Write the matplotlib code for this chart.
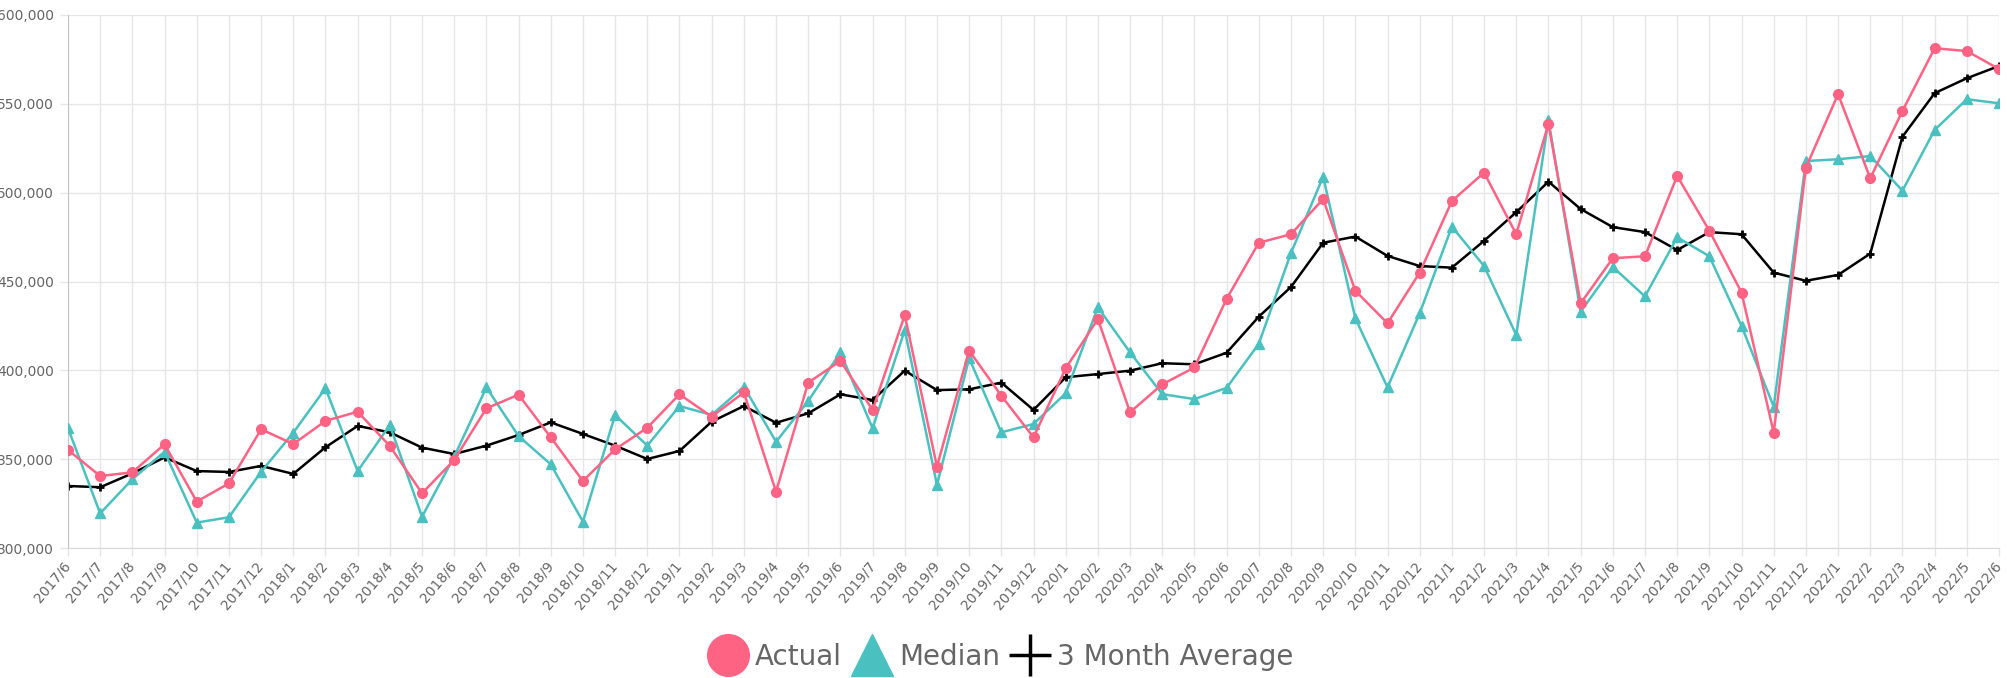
import matplotlib
matplotlib.use("Agg")
import matplotlib.pyplot as plt
from matplotlib.lines import Line2D
from matplotlib.ticker import FuncFormatter

# months shown on the x axis, 2017/6 .. 2022/6
months = []
for y in range(2017, 2023):
    for m in range(1, 13):
        if (y == 2017 and m < 6) or (y == 2022 and m > 6):
            continue
        months.append(f"{y}/{m}")

actual = [
    355.2, 340.5, 342.6, 358.4, 326.1, 336.4, 366.8, 358.5, 371.5, 376.7,
    357.4, 330.8, 349.5, 378.6, 386.3, 362.3, 337.7, 355.5, 367.7, 386.5,
    373.9, 387.6, 331.7, 393.1, 405.3, 377.7, 431.1, 345.8, 411.1, 385.7,
    362.3, 401.1, 428.9, 376.4, 392.1, 401.6, 440.2, 471.8, 476.6, 496.4,
    444.8, 426.5, 455.0, 495.3, 511.3, 476.6, 538.7, 437.7, 463.1, 464.2,
    509.4, 478.6, 443.8, 364.9, 514.1, 555.4, 508.1, 546.0, 581.3, 579.7,
    569.6,
]
median = [
    367.4, 319.5, 338.7, 354.2, 314.3, 317.3, 342.9, 364.9, 389.9, 343.3,
    369.2, 317.6, 351.4, 390.4, 363.0, 347.1, 314.8, 374.9, 357.6, 379.9,
    374.9, 390.8, 359.8, 382.7, 410.1, 367.4, 422.7, 335.5, 406.8, 365.1,
    369.8, 387.1, 435.5, 410.1, 386.6, 383.8, 390.1, 414.9, 466.0, 509.0,
    429.3, 390.4, 432.1, 480.9, 458.7, 419.9, 540.9, 433.0, 458.2, 441.6,
    474.9, 464.2, 425.0, 379.5, 517.8, 518.8, 520.6, 501.1, 535.3, 552.6,
    550.3,
]
avg3 = [
    334.9, 334.2, 342.0, 351.0, 343.3, 342.8, 346.2, 341.7, 356.7, 368.7,
    365.1, 356.5, 352.9, 357.6, 363.6, 370.7, 364.2, 357.6, 350.1, 354.6,
    371.1, 379.9, 370.5, 375.8, 386.5, 383.3, 399.8, 388.9, 389.3, 393.1,
    377.7, 396.1, 397.9, 399.8, 404.0, 403.4, 409.9, 430.2, 446.9, 471.8,
    475.3, 464.4, 458.7, 457.8, 472.9, 489.0, 506.2, 490.8, 480.6, 477.8,
    467.7, 477.8, 476.6, 455.0, 450.4, 453.7, 465.7, 531.5, 556.0, 564.4,
    571.3,
]
actual = [v * 1000 for v in actual]
median = [v * 1000 for v in median]
avg3 = [v * 1000 for v in avg3]

PINK = "#FF6384"
TEAL = "#4BC0C0"
GRID = "#e6e6e6"
TXT = "#666666"

fig = plt.figure(figsize=(20.07, 6.78), dpi=100)
ax = fig.add_axes([68 / 2007, 1 - 548 / 678, (1999 - 68) / 2007, (548 - 15) / 678])

x = list(range(len(months)))
ax.plot(x, avg3, color="black", lw=1.8, marker="+", ms=6, mew=2, zorder=2)
ax.plot(x, median, color=TEAL, lw=1.8, marker="^", ms=7, zorder=3)
ax.plot(x, actual, color=PINK, lw=1.8, marker="o", ms=7, zorder=4)

ax.set_xlim(0, len(months) - 1)
ax.set_ylim(300000, 600000)
ax.set_yticks(range(300000, 600001, 50000))
ax.yaxis.set_major_formatter(FuncFormatter(lambda v, p: f"{v:,.0f}"))
ax.set_xticks(x)
ax.set_xticklabels(months, rotation=50, ha="right", va="center", rotation_mode="anchor")

ax.grid(True, color=GRID, lw=1)
ax.set_axisbelow(True)
ax.tick_params(axis="both", colors=GRID, labelcolor=TXT, labelsize=10, length=6, width=1)
ax.tick_params(axis="x", pad=5)
ax.tick_params(axis="y", pad=4)
for s in ["top", "right"]:
    ax.spines[s].set_visible(False)
ax.spines["left"].set_color("#c4c4c4")
ax.spines["bottom"].set_color("#d8d8d8")

handles = [
    Line2D([], [], ls="", marker="o", ms=30, color=PINK),
    Line2D([], [], ls="", marker="^", ms=30, color=TEAL),
    Line2D([], [], ls="", marker="+", ms=30, mew=2.5, color="black"),
]
fig.legend(handles, ["Actual", "Median", "3 Month Average"], loc="center",
           bbox_to_anchor=(0.4985, 0.031), ncol=3, frameon=False, fontsize=20,
           labelcolor=TXT, handlelength=1.45, handletextpad=0.25, columnspacing=0.35)

fig.savefig("out.png", dpi=100)
